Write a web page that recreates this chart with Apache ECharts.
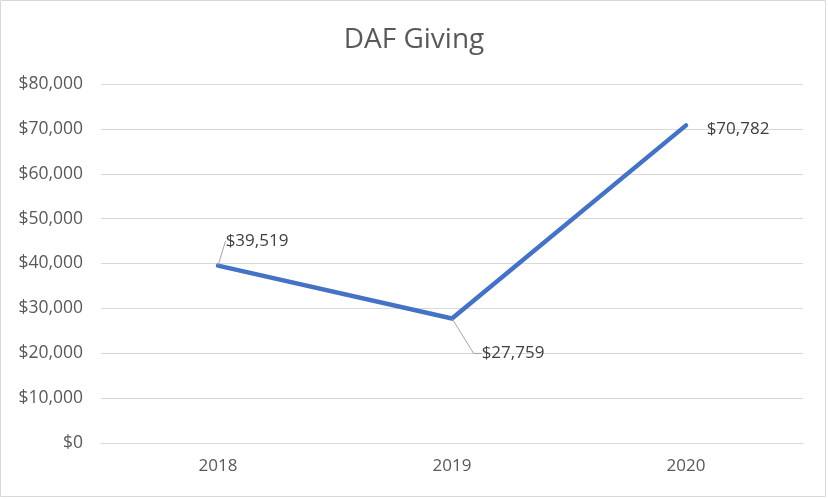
<!DOCTYPE html>
<html><head><meta charset="utf-8">
<script src="https://cdn.jsdelivr.net/npm/echarts@6/dist/echarts.min.js"></script>
<style>html,body{margin:0;padding:0;background:#fff}#c{width:828px;height:499px}</style>
</head><body><div id="c"></div>
<script>
const categories = ['2018', '2019', '2020'];
const values = [39519, 27759, 70782];
const yTicks = [0, 10000, 20000, 30000, 40000, 50000, 60000, 70000, 80000];

const fmt = v => '$' + v.toLocaleString('en-US');
const font = '"Open Sans", "Noto Sans", sans-serif';
const labelMoves = [[39, -11, true, 0], [61, 49, true, 8], [52, 18, false, 0]];

const chart = echarts.init(document.getElementById('c'), null, {renderer: 'canvas'});
chart.setOption({
  animation: false,
  backgroundColor: '#fff',
  title: {text: 'DAF Giving', left: 'center', top: 21,
    textStyle: {fontFamily: font, fontSize: 28, fontWeight: 'normal', color: '#595959'}},
  graphic: [{type: 'rect', shape: {x: 0.5, y: 0.5, width: 825, height: 496},
    style: {fill: 'none', stroke: '#d9d9d9', lineWidth: 1}, silent: true}],
  grid: {left: 101, right: 25, top: 84, bottom: 56},
  xAxis: {type: 'category', data: categories, boundaryGap: true,
    axisLine: {show: true, lineStyle: {color: '#d9d9d9'}}, axisTick: {show: false},
    axisLabel: {fontFamily: font, fontSize: 17, color: '#595959', margin: 15}},
  yAxis: {type: 'value', min: yTicks[0], max: yTicks[yTicks.length - 1], interval: yTicks[1] - yTicks[0],
    axisLine: {show: false}, axisTick: {show: false},
    splitLine: {lineStyle: {color: '#d9d9d9', width: 1}},
    axisLabel: {fontFamily: font, fontSize: 17.5, color: '#595959', margin: 18, formatter: v => fmt(v)}},
  series: [{
    type: 'line', symbol: 'circle', symbolSize: 1, showSymbol: true,
    itemStyle: {color: '#4472C4'},
    data: values.map((v, i) => ({value: v, labelLine: {show: labelMoves[i][2], length2: labelMoves[i][3], lineStyle: {color: '#a6a6a6', width: 1}}})),
    lineStyle: {color: '#4472C4', width: 4.5, cap: 'round', join: 'round'},
    label: {show: true, position: 'top', formatter: p => fmt(p.value),
      fontFamily: font, fontSize: 17, color: '#404040'},
    labelLine: {show: true, smooth: false},
    labelLayout: p => ({dx: labelMoves[p.dataIndex][0], dy: labelMoves[p.dataIndex][1]})
  }]
});
</script></body></html>
